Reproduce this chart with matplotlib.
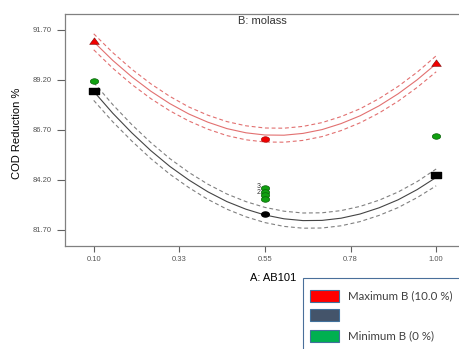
import matplotlib
matplotlib.use("Agg")
import matplotlib.pyplot as plt
from matplotlib.path import Path
from matplotlib.patches import Rectangle

plt.rcParams['font.family'] = ['Liberation Sans', 'DejaVu Sans']

# design points
x_pts = [0.10, 0.55, 1.00]
red_pts = [91.15, 86.23, 90.05]
black_pts = [88.66, 82.52, 84.43]
green_pts = [89.15, 86.40]
green_x = [0.10, 1.00]
green_center = [83.79, 83.61, 83.44, 83.26]

# model curves
xg = [0.10, 0.15, 0.20, 0.25, 0.30, 0.35, 0.40, 0.45, 0.50, 0.55,
      0.60, 0.65, 0.70, 0.75, 0.80, 0.85, 0.90, 0.95, 1.00]
red_fit = [91.11, 90.18, 89.36, 88.64, 88.02, 87.50, 87.09, 86.77, 86.56, 86.45,
           86.44, 86.53, 86.72, 87.02, 87.41, 87.91, 88.51, 89.21, 90.01]
red_hi = [91.51, 90.57, 89.74, 89.01, 88.38, 87.85, 87.44, 87.12, 86.91, 86.80,
          86.79, 86.88, 87.07, 87.37, 87.76, 88.27, 88.88, 89.59, 90.41]
red_lo = [90.71, 89.79, 88.98, 88.27, 87.66, 87.15, 86.74, 86.42, 86.21, 86.10,
          86.09, 86.18, 86.37, 86.67, 87.06, 87.55, 88.14, 88.83, 89.61]
blk_fit = [88.63, 87.54, 86.56, 85.67, 84.88, 84.20, 83.61, 83.12, 82.74, 82.45,
           82.26, 82.17, 82.18, 82.29, 82.50, 82.81, 83.21, 83.72, 84.33]
blk_hi = [89.08, 87.97, 86.97, 86.07, 85.27, 84.58, 83.99, 83.50, 83.12, 82.83,
          82.64, 82.55, 82.56, 82.67, 82.88, 83.19, 83.60, 84.12, 84.75]
blk_lo = [88.18, 87.11, 86.15, 85.27, 84.49, 83.82, 83.23, 82.74, 82.36, 82.07,
          81.88, 81.79, 81.80, 81.91, 82.12, 82.43, 82.82, 83.32, 83.91]

xticks = [0.10, 0.325, 0.55, 0.775, 1.00]
xtick_labels = ["0.10", "0.33", "0.55", "0.78", "1.00"]
yticks = [81.70, 84.20, 86.70, 89.20, 91.70]

legend_labels = ["Maximum B (10.0 %)", "", "Minimum B (0 %)"]
legend_colors = ["#ff0000", "#44546a", "#00b050"]

# flat markers
ellipse = Path.unit_circle().transformed(matplotlib.transforms.Affine2D().scale(1.5, 1))
rect = Path([(-1.8, -1), (1.8, -1), (1.8, 1), (-1.8, 1), (-1.8, -1)], closed=True)
tri = Path([(-1, -0.6), (1, -0.6), (0, 0.75), (-1, -0.6)], closed=True)

W, H = 459, 349
fig = plt.figure(figsize=(W / 100, H / 100), dpi=100)
ax = fig.add_axes([65 / W, 103 / H, (W - 65) / W, 232 / H])

dash = (0, (3.5, 2.5))
ax.plot(xg, red_fit, color="#e27070", lw=0.8)
ax.plot(xg, red_hi, color="#e27070", lw=0.8, ls=dash)
ax.plot(xg, red_lo, color="#e27070", lw=0.8, ls=dash)
ax.plot(xg, blk_fit, color="#444444", lw=0.8)
ax.plot(xg, blk_hi, color="#808080", lw=0.8, ls=dash)
ax.plot(xg, blk_lo, color="#808080", lw=0.8, ls=dash)

ax.plot([x_pts[0], x_pts[2]], [red_pts[0], red_pts[2]], ls="none", marker=tri,
        ms=7, mfc="#f00000", mec="#700000", mew=0.35)
ax.plot([x_pts[1]], [red_pts[1]], ls="none", marker=ellipse, ms=6,
        mfc="#f00000", mec="#a00000", mew=0.4)
ax.plot([x_pts[0], x_pts[2]], [black_pts[0], black_pts[2]], ls="none", marker=rect,
        ms=7, mfc="#000000", mec="#000000")
ax.plot([x_pts[1]], [black_pts[1]], ls="none", marker=ellipse, ms=5.5,
        mfc="#000000", mec="#000000")
ax.plot(green_x, green_pts, ls="none", marker=ellipse, ms=6,
        mfc="#10a010", mec="#0a600a", mew=0.5)
ax.plot([0.55] * len(green_center), green_center, ls="none", marker=ellipse, ms=6,
        mfc="#10a010", mec="#0a600a", mew=0.5)
ax.text(0.538, 83.90, "3", fontsize=5, color="#333333", ha="right", va="center")
ax.text(0.538, 83.58, "2", fontsize=5, color="#333333", ha="right", va="center")

ax.set_xlim(0.0245, 1.06)
ax.set_ylim(80.9, 92.5)
ax.set_xticks(xticks)
ax.set_xticklabels(xtick_labels)
ax.set_yticks(yticks)
ax.set_yticklabels(["%.2f" % v for v in yticks])
ax.tick_params(axis="y", length=6, width=0.8, color="#606060", labelsize=5.5,
               labelcolor="#555555", pad=3.5)
ax.tick_params(axis="x", length=4.5, width=0.8, color="#606060", labelsize=5.5,
               labelcolor="#555555", pad=2.5)
for s in ["left", "top", "bottom"]:
    ax.spines[s].set_color("#808080")
    ax.spines[s].set_linewidth(0.9)
ax.spines["right"].set_visible(False)

fig.text(238 / W, 1 - 21 / H, "B: molass", fontsize=8, color="#333333",
         ha="left", va="center")
fig.text(17 / W, 1 - 133 / H, "COD Reduction %", fontsize=8, rotation=90,
         ha="center", va="center")
fig.text(250 / W, 1 - 278 / H, "A: AB101", fontsize=8, ha="left", va="center")

# legend box, running off the right and bottom edges as in the original
fig.patches.append(Rectangle((303 / W, -0.05), 0.5, 0.05 + (H - 278) / H,
                             transform=fig.transFigure, fill=False,
                             ec="#4a6f9a", lw=0.8))
rows = [296, 315, 336]
for lab, col, yc in zip(legend_labels, legend_colors, rows):
    fig.patches.append(Rectangle((309.5 / W, 1 - (yc + 6) / H), 29 / W, 12 / H,
                                 transform=fig.transFigure, fc=col,
                                 ec="#41719c", lw=0.8))
    if lab:
        fig.text(348 / W, 1 - yc / H, lab, fontsize=8.3, color="#404040",
                 ha="left", va="center", family=["Lato", "DejaVu Sans"])

fig.savefig("out.png", dpi=100)
